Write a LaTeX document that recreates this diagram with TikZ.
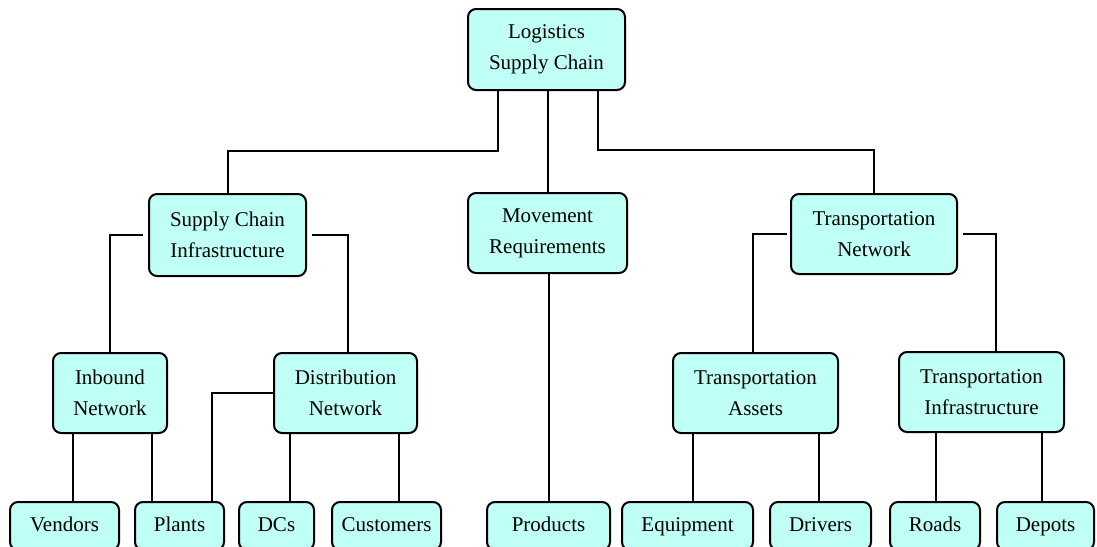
\documentclass[tikz,border=0pt]{standalone}
\usepackage{fontspec}
\setmainfont{Liberation Serif}
\definecolor{boxcyan}{RGB}{192,255,246}
\begin{document}
\begin{tikzpicture}[
        x=1pt, y=-1pt,
        every node/.style={draw, rounded corners=8pt, fill=boxcyan, line width=2pt, inner sep=0pt,
            minimum height=80pt, align=center, font=\fontsize{21}{31}\selectfont},
        leaf/.style={minimum height=48pt, text height=15pt, text depth=4.5pt},
        ar/.style={-, line width=2pt},
    ]
    \useasboundingbox (0,0) rectangle (1097,546);
    \clip (0,0) rectangle (1097,546);

    % top and second level
    \node[minimum width=157pt, minimum height=81pt](lsc) at (546.5,49.5) {Logistics\\Supply Chain};
    \node[minimum width=157pt, minimum height=82pt](sci) at (227.5,235) {Supply Chain\\Infrastructure};
    \node[minimum width=159pt](mr) at (547.5,233) {Movement\\Requirements};
    \node[minimum width=166pt](tn) at (874,234) {Transportation\\Network};

    % third level
    \node[minimum width=114pt](inb) at (110,393) {Inbound\\Network};
    \node[minimum width=143pt](dn) at (345.5,393) {Distribution\\Network};
    \node[minimum width=165pt](ta) at (755.5,393) {Transportation\\Assets};
    \node[minimum width=165pt](ti) at (981.5,392) {Transportation\\Infrastructure};

    % leaves
    \node[leaf, minimum width=109pt](ven) at (64.5,526) {Vendors};
    \node[leaf, minimum width=89pt](pl) at (179.5,526) {Plants};
    \node[leaf, minimum width=75pt](dc) at (276.5,526) {DCs};
    \node[leaf, minimum width=109pt](cus) at (386.5,526) {Customers};
    \node[leaf, minimum width=123pt](prod) at (548.5,526) {Products};
    \node[leaf, minimum width=131pt](eq) at (687.5,526) {Equipment};
    \node[leaf, minimum width=101pt](dr) at (820.5,526) {Drivers};
    \node[leaf, minimum width=90pt](rd) at (935,526) {Roads};
    \node[leaf, minimum width=97pt](dep) at (1045.5,526) {Depots};

    \draw[ar] ([xshift=1.5]lsc.south) -- ([xshift=1.5]lsc.south |- mr.north);
    \draw[ar] (prod.north |- mr.south) -- (prod.north);
    \draw[ar] ([xshift=-48.5]lsc.south) -- ++(0,60) -| (sci.north);
    \draw[ar] ([xshift=51.5]lsc.south) -- ++(0,59) -| (tn.north);

    \draw[ar] ([xshift=-5]sci.west) -| (inb.north);
    \draw[ar] ([xshift=5]sci.east) -| ([xshift=2.5]dn.north);
    \draw[ar] ([xshift=-3]tn.west) -| ([xshift=-2.5]ta.north);
    \draw[ar] ([xshift=5]tn.east) -| ([xshift=14.5]ti.north);

    \draw[ar] ([xshift=-37]inb.south) -- ([xshift=-37]inb.south |- ven.north);
    \draw[ar] ([xshift=42]inb.south) -- ([xshift=42]inb.south |- pl.north);
    \draw[ar] (dn.west) -| ([xshift=32.5]pl.north);
    \draw[ar] ([xshift=-55.5]dn.south) -- ([xshift=-55.5]dn.south |- dc.north);
    \draw[ar] ([xshift=53.5]dn.south) -- ([xshift=53.5]dn.south |- cus.north);
    \draw[ar] ([xshift=-62.5]ta.south) -- ([xshift=-62.5]ta.south |- eq.north);
    \draw[ar] ([xshift=63.5]ta.south) -- ([xshift=63.5]ta.south |- dr.north);
    \draw[ar] ([xshift=-45.5]ti.south) -- ([xshift=-45.5]ti.south |- rd.north);
    \draw[ar] ([xshift=60.5]ti.south) -- ([xshift=60.5]ti.south |- dep.north);
\end{tikzpicture}
\end{document}
